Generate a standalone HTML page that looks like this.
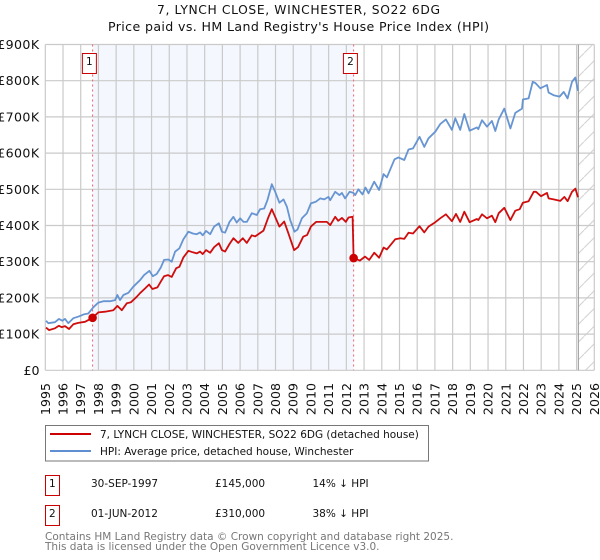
<!DOCTYPE html>
<html>
<head>
<meta charset="utf-8">
<title>7, LYNCH CLOSE, WINCHESTER, SO22 6DG</title>
<style>
html,body{margin:0;padding:0;background:#fff;}
svg{display:block;}
text{font-family:"DejaVu Sans","Liberation Sans",sans-serif;fill:#111;}
</style>
</head>
<body>
<svg id="chart" width="600" height="560" viewBox="0 0 600 560" xmlns="http://www.w3.org/2000/svg">
<defs>
<pattern id="hatch" patternUnits="userSpaceOnUse" width="17.7" height="17.7">
<path d="M-2,19.7 L19.7,-2" stroke="#cfcfcf" stroke-width="1" fill="none"/>
</pattern>
</defs>
<text x="298.5" y="14" text-anchor="middle" font-size="12.3" textLength="283" lengthAdjust="spacing">7, LYNCH CLOSE, WINCHESTER, SO22 6DG</text>
<text x="298.5" y="31" text-anchor="middle" font-size="12.6" textLength="381" lengthAdjust="spacing">Price paid vs. HM Land Registry's House Price Index (HPI)</text>
<g id="plot"></g>

<g>
<rect x="45.5" y="425.5" width="383" height="35.5" fill="#fff" stroke="#777" stroke-width="1"/>
<line x1="50" x2="91" y1="434" y2="434" stroke="#cc0000" stroke-width="2"/>
<text x="100" y="438" font-size="10.5">7, LYNCH CLOSE, WINCHESTER, SO22 6DG (detached house)</text>
<line x1="50" x2="91" y1="451" y2="451" stroke="#5f8fd0" stroke-width="2"/>
<text x="100" y="455" font-size="10.5">HPI: Average price, detached house, Winchester</text>
</g>

<g>
<rect x="45.5" y="475.5" width="14" height="20" fill="#fff" stroke="#cc0000" stroke-width="1"/>
<text x="52.3" y="487" text-anchor="middle" font-size="10.5">1</text>
<text x="91" y="487" font-size="10.5">30-SEP-1997</text>
<text x="215" y="487" font-size="10.5">£145,000</text>
<text x="312.5" y="487" font-size="10.5">14% ↓ HPI</text>
</g>
<g>
<rect x="45.5" y="505.5" width="14" height="20" fill="#fff" stroke="#cc0000" stroke-width="1"/>
<text x="52.3" y="517" text-anchor="middle" font-size="10.5">2</text>
<text x="91" y="517" font-size="10.5">01-JUN-2012</text>
<text x="215" y="517" font-size="10.5">£310,000</text>
<text x="312.5" y="517" font-size="10.5">38% ↓ HPI</text>
</g>
<text x="45" y="540" font-size="10.5" style="fill:#777">Contains HM Land Registry data © Crown copyright and database right 2025.</text>
<text x="45" y="550" font-size="10.5" style="fill:#777">This data is licensed under the Open Government Licence v3.0.</text>
</svg>
<script>
const yearTicks = [1995,1996,1997,1998,1999,2000,2001,2002,2003,2004,2005,2006,2007,2008,2009,2010,2011,2012,2013,2014,2015,2016,2017,2018,2019,2020,2021,2022,2023,2024,2025,2026];
const priceTicks = [0,100,200,300,400,500,600,700,800,900];
const priceTickLabels = ["£0","£100K","£200K","£300K","£400K","£500K","£600K","£700K","£800K","£900K"];
const hpiYears = [1995.04,1995.17,1995.55,1995.77,1995.96,1996.11,1996.30,1996.58,1996.86,1997.20,1997.43,1997.71,1997.99,1998.28,1998.66,1998.94,1999.07,1999.22,1999.41,1999.69,1999.97,2000.35,2000.58,2000.88,2001.07,2001.29,2001.52,2001.71,2001.95,2002.14,2002.33,2002.57,2002.80,2003.08,2003.33,2003.55,2003.74,2003.89,2004.08,2004.31,2004.53,2004.80,2004.97,2005.15,2005.40,2005.62,2005.81,2006.00,2006.19,2006.38,2006.66,2006.94,2007.13,2007.36,2007.54,2007.79,2007.98,2008.22,2008.45,2008.64,2008.83,2009.07,2009.24,2009.49,2009.77,2010.00,2010.29,2010.52,2010.75,2010.99,2011.09,2011.37,2011.61,2011.75,2011.93,2012.18,2012.40,2012.50,2012.68,2012.91,2013.08,2013.25,2013.57,2013.85,2014.10,2014.29,2014.72,2014.94,2015.27,2015.51,2015.76,2016.13,2016.40,2016.64,2017.02,2017.30,2017.62,2017.96,2018.15,2018.43,2018.66,2018.96,2019.37,2019.45,2019.66,2019.94,2020.22,2020.41,2020.60,2020.92,2021.26,2021.54,2021.92,2021.97,2022.29,2022.52,2022.67,2022.95,2023.33,2023.42,2023.70,2024.04,2024.27,2024.49,2024.74,2024.93,2025.08];
const hpiValues = [137,130,133,142,137,142,130,144,148,155,157,174,187,191,191,194,208,194,208,214,231,249,263,275,260,266,284,305,306,300,328,337,362,383,378,376,381,373,385,376,397,406,383,380,410,424,408,420,410,410,434,429,445,447,470,514,493,463,472,452,415,383,389,420,434,461,466,475,472,479,470,493,484,490,475,493,490,484,500,486,505,489,521,498,542,533,583,588,581,610,613,645,617,641,659,680,693,664,696,664,708,662,671,666,691,673,689,661,693,723,668,711,723,748,751,797,794,779,788,767,760,756,769,751,797,809,772];
const paidYears = [1995.04,1995.21,1995.55,1995.77,1995.93,1996.11,1996.34,1996.58,1996.86,1997.24,1997.67,1997.99,1998.37,1998.84,1999.07,1999.32,1999.60,1999.84,2000.16,2000.35,2000.63,2000.86,2001.05,2001.33,2001.52,2001.71,2001.92,2002.14,2002.39,2002.57,2002.80,2003.08,2003.33,2003.55,2003.74,2003.89,2004.08,2004.31,2004.53,2004.80,2004.97,2005.15,2005.40,2005.62,2005.89,2006.15,2006.38,2006.66,2006.85,2007.32,2007.58,2007.79,2008.22,2008.49,2008.72,2009.05,2009.27,2009.56,2009.79,2010.00,2010.29,2010.90,2011.09,2011.37,2011.54,2011.75,2011.97,2012.12,2012.35,2012.41,2012.76,2013.05,2013.29,2013.58,2013.85,2014.10,2014.29,2014.76,2015.05,2015.27,2015.51,2015.76,2016.13,2016.40,2016.64,2017.02,2017.30,2017.62,2017.96,2018.19,2018.43,2018.66,2018.96,2019.37,2019.45,2019.66,2019.94,2020.22,2020.41,2020.60,2020.92,2021.26,2021.54,2021.79,2021.97,2022.29,2022.58,2022.71,2022.99,2023.33,2023.42,2023.70,2024.08,2024.31,2024.49,2024.74,2024.93,2025.08];
const paidValues = [118,111,116,123,119,122,114,127,131,134,145,160,162,166,178,166,185,188,203,213,226,237,224.5,229,245,260,263,258,282,286,312,330,326,323,328,321,332,325,340,351,332,328,349,365,352,365,352,373,370,386,421,445,397,411,379,332,340,369,374,397,410,410,401,424,413,421,410,422,424,310,303,314,305,325,311,339,334,362,365,363,380,378,398,381,397,409,420,431,412,432,410,438,409,418,415,431,420,427,409,434,449,415,441,445,463,467,493,493,481,490,475,472,468,479,467,493,502,478];
const saleYears = [1997.67,2012.41];
const salePrices = [145,310];
const saleLabels = ["1","2"];
const dataEndYear = 2025.1;

const NS = "http://www.w3.org/2000/svg";
const plot = document.getElementById("plot");
const xLeft = 45.3, xRight = 594.3, yZero = 370.3, yTop = 44.5;
const xScale = y => xLeft + (y - 1995) * (xRight - xLeft) / 31;
const yScale = v => yZero - v * (yZero - yTop) / 900;

function make(tag, attrs) {
  const el = document.createElementNS(NS, tag);
  for (const k in attrs) el.setAttribute(k, attrs[k]);
  plot.appendChild(el);
  return el;
}

// shaded period between sales
const band = make("rect", {x: xScale(saleYears[0]), y: yTop, width: xScale(saleYears[1]) - xScale(saleYears[0]), height: yZero - yTop, fill: "#f4f7fe"});



// hatched no-data region
const hatch = make("rect", {x: xScale(dataEndYear), y: yTop, width: xRight - xScale(dataEndYear), height: yZero - yTop, fill: "url(#hatch)"});



// gridlines and tick labels
yearTicks.forEach(y => {
  const g = make("line", {x1: xScale(y), x2: xScale(y), y1: yTop, y2: yZero, stroke: "#cacaca", "stroke-width": 1.2});
  
  
  const px = xScale(y) + 4.5;
  const t = make("text", {x: px, y: 383, transform: "rotate(-90 " + px + " 383)", "text-anchor": "end", "font-size": 12.6});
  
  
  t.textContent = y;
});
priceTicks.forEach((v, i) => {
  const g = make("line", {x1: xLeft, x2: xRight, y1: yScale(v), y2: yScale(v), stroke: "#cacaca", "stroke-width": 1.2});
  
  
  const t = make("text", {x: 39.5, y: yScale(v) + 4.5, "text-anchor": "end", "font-size": 12.6, "letter-spacing": v ? 0.4 : 0});
  
  
  t.textContent = priceTickLabels[i];
});

// end of data rule
const endRule = make("line", {x1: xScale(dataEndYear), x2: xScale(dataEndYear), y1: yTop, y2: yZero, stroke: "#999", "stroke-width": 1});



// sale dashed markers
saleYears.forEach(y => {
  const l = make("line", {x1: xScale(y), x2: xScale(y), y1: yTop, y2: yZero, stroke: "#f0626e", "stroke-width": 1, "stroke-dasharray": "2 3"});
  
  
});

function pathOf(xs, ys) {
  return xs.map((x, i) => (i ? "L" : "M") + xScale(x).toFixed(1) + "," + yScale(ys[i]).toFixed(1)).join(" ");
}
const hpiLine = make("path", {d: pathOf(hpiYears, hpiValues), fill: "none", stroke: "#5f8fd0", "stroke-width": 1.8, "stroke-linejoin": "round", opacity: 0.95});


const paidLine = make("path", {d: pathOf(paidYears, paidValues), fill: "none", stroke: "#cc0000", "stroke-width": 1.8, "stroke-linejoin": "round", opacity: 0.95});



saleYears.forEach((y, i) => {
  const c = make("circle", {cx: xScale(y), cy: yScale(salePrices[i]), r: 4.3, fill: "#cc0000"});
  
  
  const bx = xScale(y) - 10.2;
  const b = make("rect", {x: bx, y: 53.5, width: 14, height: 20, fill: "#fff", stroke: "#cc0000", "stroke-width": 1});
  
  
  const t = make("text", {x: bx + 7, y: 65, "text-anchor": "middle", "font-size": 10.5});
  
  
  t.textContent = saleLabels[i];
});
</script>
</body>
</html>
